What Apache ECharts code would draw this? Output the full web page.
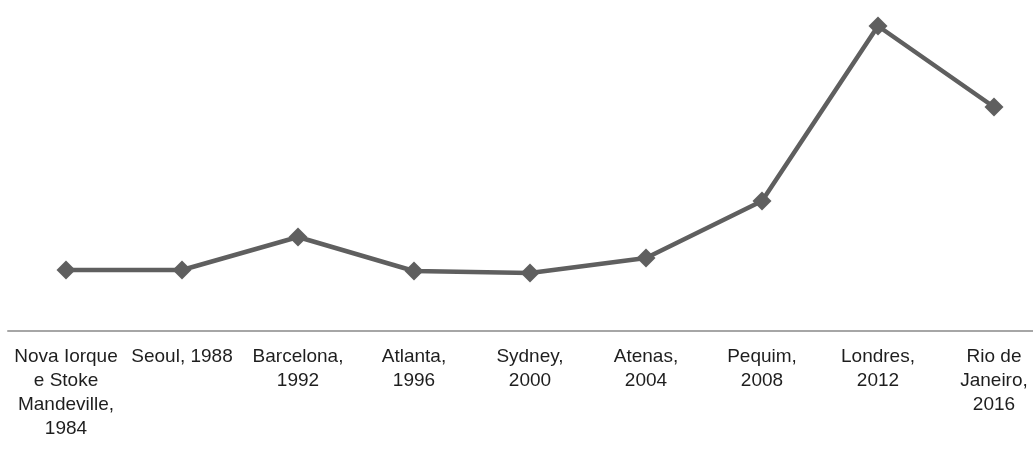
<!DOCTYPE html>
<html><head><meta charset="utf-8">
<script src="https://cdn.jsdelivr.net/npm/echarts@6/dist/echarts.min.js"></script>
<style>html,body{margin:0;padding:0;background:#fff}#c{width:1033px;height:455px}</style>
</head><body><div id="c"></div>
<script>
const categories = ["Nova Iorque\ne Stoke\nMandeville,\n1984","Seoul, 1988","Barcelona,\n1992","Atlanta,\n1996","Sydney,\n2000","Atenas,\n2004","Pequim,\n2008","Londres,\n2012","Rio de\nJaneiro,\n2016"];
const values = [61, 61, 94, 60, 58, 73, 130, 305, 224];
const chart = echarts.init(document.getElementById('c'));
chart.setOption({
  animation:false,
  grid:{left:8, top:0, width:1044, height:331, outerBoundsMode:'none', containLabel:false},
  xAxis:{type:'category', data:categories, boundaryGap:true,
    axisLine:{lineStyle:{color:'#a6a6a6', width:2}}, axisTick:{show:false},
    axisLabel:{interval:0, margin:14, color:'#1e1e1e', fontSize:19, lineHeight:24, fontFamily:'Liberation Sans', align:'center', hideOverlap:false}},
  yAxis:{type:'value', min:0, max:331, show:false, splitLine:{show:false}},
  series:[{type:'line', data:values, symbol:'diamond', symbolSize:19, clip:false,
    lineStyle:{color:'#5f5f5f', width:4.5}, itemStyle:{color:'#5f5f5f'}}]
});
</script></body></html>
